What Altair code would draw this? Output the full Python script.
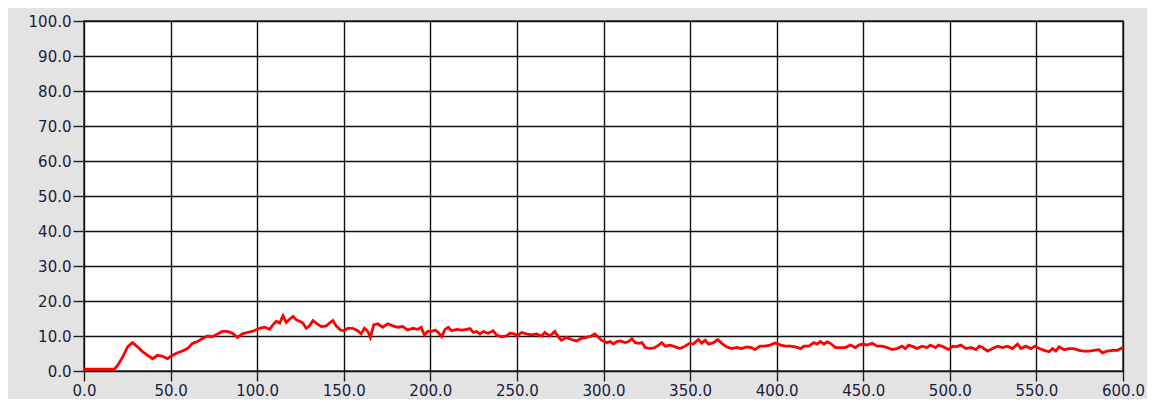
import altair as alt
import pandas as pd

time_s = [
    0, 10, 17.5, 19.4, 22.3, 25.2, 28.0, 30.9, 33.8, 36.7, 39.6, 42.5, 45.3, 48.2,
    51.1, 54.0, 56.9, 59.8, 62.6, 65.5, 68.4, 71.3, 74.2, 77.1, 79.9, 82.8, 85.7,
    88.6, 91.5, 94.3, 98.2,
    101.4, 104.3, 107.2, 109.1, 111.0, 113.0, 114.9, 116.8, 118.7, 120.7, 122.6,
    124.5, 126.4, 128.3, 130.3, 132.2, 134.1, 137.0, 139.9, 141.8, 143.7, 145.6,
    148.1, 150.0, 152.3, 155.2, 158.1, 160.0, 162.0, 163.9, 165.4, 167.3, 169.6,
    172.5, 175.4, 178.3, 181.2, 184.1, 186.9, 189.8, 192.7, 194.7, 196.6, 198.5,
    200.8, 202.7, 204.6, 206.5, 208.5, 210.4, 212.3, 215.2, 218.1, 220.9, 222.9,
    224.8, 226.7, 228.6, 230.6, 233.4, 236.3, 238.2, 241.1, 244.0, 245.9, 248.4,
    250.3, 252.6, 255.5, 258.4, 261.3, 264.2, 266.1, 269.0, 271.9, 273.8, 275.7,
    278.6, 281.5, 284.3, 287.2, 290.1, 293.0, 294.9, 296.8, 298.8,
    302.0, 303.9, 305.8, 307.7, 309.7, 312.5, 314.5, 316.4, 318.3, 320.2, 322.2,
    324.1, 327.0, 329.8, 331.8, 333.7, 335.6, 338.5, 341.4, 344.2, 347.1, 349.6,
    351.9, 354.8, 356.7, 358.7, 360.6, 363.5, 366.0, 368.3, 371.1, 374.0, 376.9,
    379.8, 382.7, 385.5, 387.5, 390.3, 393.2, 396.1, 399.0,
    402.3, 405.2, 408.0, 410.9, 413.8, 415.7, 418.6, 421.5, 423.4, 425.3, 427.3,
    429.2, 431.1, 434.0, 436.9, 439.7, 442.6, 445.5, 447.4, 449.9, 452.2, 455.1,
    458.0, 460.9, 463.8, 466.6, 469.5, 472.4, 474.3, 476.2, 479.1, 481.0, 483.9,
    486.8, 488.7, 491.6, 493.5, 496.4, 499.3,
    501.6, 503.5, 506.4, 509.3, 512.2, 515.1, 517.0, 518.9, 521.8, 524.7, 527.6,
    530.4, 533.3, 536.2, 539.1, 541.0, 543.9, 546.8, 549.3, 551.6, 554.5, 557.3,
    559.3, 561.2, 563.1, 566.0, 568.9, 571.7, 574.6, 577.5, 580.4, 583.3, 586.1,
    588.1, 590.9, 593.8, 596.7, 600.0,
]

signal = [
    0.5, 0.5, 0.5, 1.6, 4.0, 6.9, 8.1, 6.9, 5.5, 4.5, 3.5, 4.5, 4.2, 3.5,
    4.5, 5.2, 5.7, 6.4, 7.9, 8.4, 9.3, 10.0, 9.8, 10.6, 11.3, 11.3, 10.8,
    9.6, 10.6, 11.0, 11.5,
    12.2, 12.5, 11.9, 13.2, 14.2, 13.7, 15.8, 13.9, 14.8, 15.6, 14.6,
    14.2, 13.7, 12.2, 12.9, 14.4, 13.7, 12.7, 12.9, 13.7, 14.4, 12.9,
    11.7, 11.5, 12.2, 12.2, 11.5, 10.6, 12.2, 11.3, 9.6, 13.2, 13.5,
    12.5, 13.5, 12.9, 12.5, 12.7, 11.7, 12.2, 11.9, 12.5, 10.3, 11.3,
    11.3, 11.7, 11.0, 9.8, 11.9, 12.5, 11.5, 11.9, 11.7, 11.9, 12.1,
    11.0, 11.3, 10.6, 11.3, 10.8, 11.5, 10.3, 9.8, 10.0, 10.8, 10.6,
    10.0, 11.0, 10.6, 10.3, 10.6, 10.0, 11.0, 10.0, 11.3, 9.8, 8.8,
    9.6, 9.0, 8.6, 9.3, 9.6, 10.0, 10.6, 9.8, 8.8,
    8.1, 8.4, 7.7, 8.4, 8.6, 8.1, 8.4, 9.2, 8.1, 7.9, 8.1,
    6.7, 6.4, 6.7, 7.4, 8.1, 7.1, 7.4, 6.9, 6.4, 7.1, 7.9,
    7.7, 9.0, 7.9, 8.8, 7.7, 8.1, 9.0, 7.9, 6.9, 6.4, 6.7,
    6.4, 6.9, 6.7, 6.1, 7.1, 7.1, 7.4, 8.0,
    7.4, 7.1, 7.1, 6.9, 6.4, 7.1, 7.1, 8.1, 7.7, 8.4, 7.7,
    8.3, 7.9, 6.7, 6.7, 6.7, 7.4, 6.7, 7.4, 7.7, 7.4, 7.9,
    7.1, 7.1, 6.7, 6.1, 6.4, 7.1, 6.4, 7.4, 6.9, 6.4, 7.1,
    6.7, 7.4, 6.7, 7.4, 6.9, 6.1,
    7.1, 6.9, 7.4, 6.4, 6.7, 6.1, 7.1, 6.7, 5.7, 6.4, 7.1,
    6.7, 7.1, 6.4, 7.7, 6.4, 7.1, 6.4, 7.1, 6.4, 5.9, 5.5,
    6.4, 5.7, 6.9, 6.1, 6.4, 6.4, 5.9, 5.7, 5.7, 5.9, 6.1,
    5.2, 5.7, 5.9, 5.9, 6.7,
]

x_ticks = [0, 50, 100, 150, 200, 250, 300, 350, 400, 450, 500, 550, 600]
y_ticks = [0, 10, 20, 30, 40, 50, 60, 70, 80, 90, 100]

df = pd.DataFrame({"t": time_s, "v": signal})

label_color = "#1c1c40"

chart = (
    alt.Chart(df)
    .mark_line(color="#ff0000", strokeWidth=2.8, interpolate="linear")
    .encode(
        x=alt.X(
            "t:Q",
            scale=alt.Scale(domain=[0, 600], nice=False, zero=False),
            axis=alt.Axis(
                values=x_ticks, format=".1f", title=None,
                grid=True, gridColor="#111111", gridWidth=1.4,
                domain=False, tickColor="#222222", tickSize=10, tickWidth=1.4,
                labelColor=label_color, labelFont="DejaVu Sans", labelFontSize=15,
                labelPadding=2, labelFlush=False,
            ),
        ),
        y=alt.Y(
            "v:Q",
            scale=alt.Scale(domain=[0, 100], nice=False),
            axis=alt.Axis(
                values=y_ticks, format=".1f", title=None,
                grid=True, gridColor="#111111", gridWidth=1.4,
                domain=False, tickColor="#222222", tickSize=11, tickWidth=1.4,
                labelColor=label_color, labelFont="DejaVu Sans", labelFontSize=15,
                labelPadding=2,
            ),
        ),
    )
    .properties(
        width=1039,
        height=350,
        background="#e3e3e3",
        padding={"left": 76, "top": 13, "right": 24, "bottom": 28},
        autosize=alt.AutoSizeParams(type="none"),
    )
    .configure_view(fill="white", stroke="#333333", strokeWidth=1.5)
)

chart.save("out.html", embed_options={"renderer": "svg", "actions": False})
